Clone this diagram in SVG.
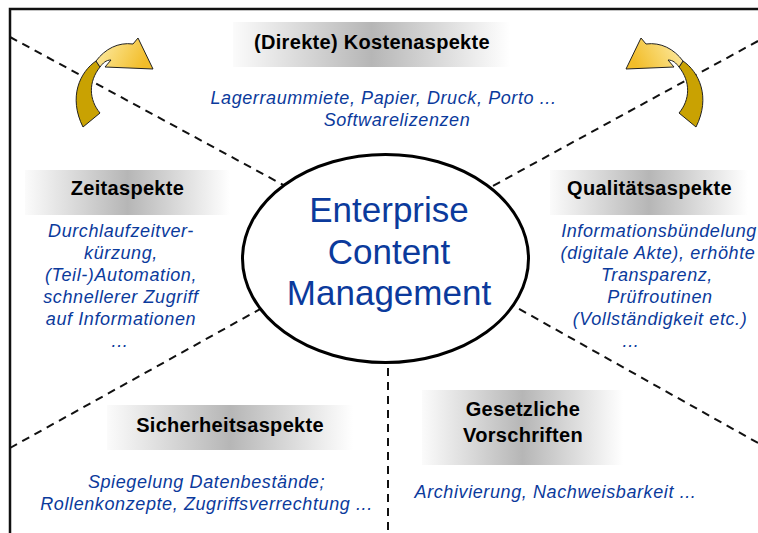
<svg xmlns="http://www.w3.org/2000/svg" width="758" height="533" viewBox="0 0 758 533">
  <defs>
    <linearGradient id="boxGrad" x1="0" y1="0" x2="1" y2="0">
      <stop offset="0" stop-color="#fbfbfb"/>
      <stop offset="0.5" stop-color="#b6b6b6"/>
      <stop offset="1" stop-color="#ffffff"/>
    </linearGradient>
    <linearGradient id="arrowGrad" x1="0" y1="0" x2="1" y2="0.3">
      <stop offset="0" stop-color="#fdeeb0"/>
      <stop offset="0.5" stop-color="#f8d66a"/>
      <stop offset="1" stop-color="#f2bd2a"/>
    </linearGradient>
    <style>
      .frame { fill: none; stroke: #111; stroke-width: 2.5; }
      .dash { fill: none; stroke: #111; stroke-width: 2; stroke-dasharray: 8 6; }
      .box { fill: url(#boxGrad); stroke: none; }
      .title { font-family: "Liberation Sans", Arial, sans-serif; font-weight: bold; font-size: 20px; fill: #000; text-anchor: middle; letter-spacing: 0.3px; }
      .desc { font-family: "Liberation Sans", Arial, sans-serif; font-style: italic; font-size: 18px; fill: #0b3a9c; text-anchor: middle; letter-spacing: 0.6px; }
      .center { font-family: "Liberation Sans", Arial, sans-serif; font-size: 35px; fill: #0b3a9c; text-anchor: middle; }
      .ell { fill: #fff; stroke: #000; stroke-width: 3; }
      .arLight { fill: url(#arrowGrad); stroke: #222; stroke-width: 1; stroke-linejoin: round; }
      .arDark { fill: #c9a202; stroke: #222; stroke-width: 1; stroke-linejoin: round; }
    </style>
  </defs>

  <rect width="758" height="533" fill="#fff"/>

  <!-- frame -->
  <path class="frame" d="M10,533 L10,9 L758,9"/>

  <!-- connectors -->
  <g id="connectors">
    <line class="dash" x1="10" y1="37" x2="300" y2="194"/>
    <line class="dash" x1="758" y1="41" x2="480" y2="193"/>
    <line class="dash" x1="10" y1="448" x2="280" y2="298"/>
    <line class="dash" x1="758" y1="443" x2="505" y2="301"/>
    <line class="dash" x1="388" y1="340" x2="388" y2="533"/>
  </g>

  <!-- curved arrows -->
  <g id="arrow-left">
    <path class="arDark" d="M96,61 C80,72 68,97 83,127 L100,113 C89,100 88,82 100,67 Z"/>
    <path class="arLight" d="M96,61 C105,49 118,42 133,44 L138,38 L153,69 L105,67 L111,60 C106,60 103,63 100,67 Z"/>
  </g>
  <g id="arrow-right" transform="translate(779,0) scale(-1,1)">
    <path class="arDark" d="M96,61 C80,72 68,97 83,127 L100,113 C89,100 88,82 100,67 Z"/>
    <path class="arLight" d="M96,61 C105,49 118,42 133,44 L138,38 L153,69 L105,67 L111,60 C106,60 103,63 100,67 Z"/>
  </g>

  <!-- center node -->
  <g id="ecm">
    <ellipse class="ell" cx="385.5" cy="258.5" rx="143" ry="104"/>
    <text class="center" x="389" y="222">Enterprise</text>
    <text class="center" x="389" y="263.5">Content</text>
    <text class="center" x="389" y="305">Management</text>
  </g>

  <g id="kosten">
    <rect class="box" x="233" y="22" width="277" height="45"/>
    <text class="title" x="372" y="49">(Direkte) Kostenaspekte</text>
    <text class="desc" x="383.5" y="104">Lagerraummiete, Papier, Druck, Porto ...</text>
    <text class="desc" x="397" y="126">Softwarelizenzen</text>
  </g>

  <g id="zeit">
    <rect class="box" x="25" y="170" width="205" height="45"/>
    <text class="title" x="127.5" y="195">Zeitaspekte</text>
    <text class="desc" x="121" y="237">Durchlaufzeitver-</text>
    <text class="desc" x="121" y="259">kürzung,</text>
    <text class="desc" x="121" y="281">(Teil-)Automation,</text>
    <text class="desc" x="121" y="303">schnellerer Zugriff</text>
    <text class="desc" x="121" y="325">auf Informationen</text>
    <text class="desc" x="120" y="347">...</text>
  </g>

  <g id="qualitaet">
    <rect class="box" x="550" y="170" width="198" height="45"/>
    <text class="title" x="649.5" y="195">Qualitätsaspekte</text>
    <text class="desc" x="659" y="237">Informationsbündelung</text>
    <text class="desc" x="658" y="259">(digitale Akte), erhöhte</text>
    <text class="desc" x="657" y="281">Transparenz,</text>
    <text class="desc" x="660" y="303">Prüfroutinen</text>
    <text class="desc" x="660" y="325">(Vollständigkeit etc.)</text>
    <text class="desc" x="631" y="347">...</text>
  </g>

  <g id="sicherheit">
    <rect class="box" x="107" y="405" width="246" height="45"/>
    <text class="title" x="230" y="432">Sicherheitsaspekte</text>
    <text class="desc" x="206.5" y="488">Spiegelung Datenbestände;</text>
    <text class="desc" x="206.5" y="510">Rollenkonzepte, Zugriffsverrechtung ...</text>
  </g>

  <g id="gesetz">
    <rect class="box" x="422" y="390" width="201" height="75"/>
    <text class="title" x="523" y="416">Gesetzliche</text>
    <text class="title" x="523" y="442">Vorschriften</text>
    <text class="desc" x="555.5" y="498">Archivierung, Nachweisbarkeit ...</text>
  </g>
</svg>
